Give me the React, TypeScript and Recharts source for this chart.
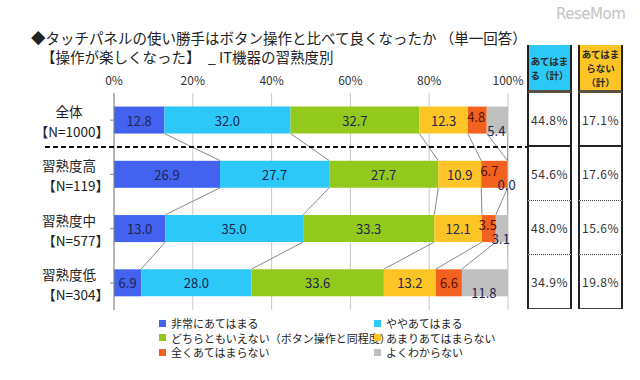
import React from 'react'
import { BarChart, Bar, XAxis, YAxis, CartesianGrid, LabelList } from 'recharts'

const categories = ['全体', '習熟度高', '習熟度中', '習熟度低']
const sampleSizes = ['【N=1000】', '【N=119】', '【N=577】', '【N=304】']

const veryMuch = [12.8, 26.9, 13.0, 6.9]
const somewhat = [32.0, 27.7, 35.0, 28.0]
const neither = [32.7, 27.7, 33.3, 33.6]
const notMuch = [12.3, 10.9, 12.1, 13.2]
const notAtAll = [4.8, 6.7, 3.5, 6.6]
const unknown = [5.4, 0.0, 3.1, 11.8]

const appliesTotal = ['44.8%', '54.6%', '48.0%', '34.9%']
const notAppliesTotal = ['17.1%', '17.6%', '15.6%', '19.8%']

const xTicks = [0, 20, 40, 60, 80, 100]

const seriesNames = [
  '非常にあてはまる',
  'ややあてはまる',
  'どちらともいえない（ボタン操作と同程度）',
  'あまりあてはまらない',
  '全くあてはまらない',
  'よくわからない',
]
const seriesValues = [veryMuch, somewhat, neither, notMuch, notAtAll, unknown]
const seriesKeys = ['s1', 's2', 's3', 's4', 's5', 's6']
const seriesColors = ['#4262ef', '#2cc8f7', '#93c91c', '#fcc424', '#f2621e', '#c0c0c0']

const FONT = '"Noto Sans CJK JP", "Noto Sans", sans-serif'

const chartData = categories.map((name, i) => {
  const row: Record<string, any> = { name, n: sampleSizes[i] }
  seriesKeys.forEach((k, j) => (row[k] = seriesValues[j][i]))
  return row
})

// cumulative right edge of each series per category (for the series lines)
const cumulative = categories.map((_, i) => {
  let sum = 0
  return seriesValues.map((vals) => (sum += vals[i]))
})

// first series draws its bar plus the connector lines down to the next category
const FirstBarShape = (props: any) => {
  const { x, y, width, height, fill, index } = props
  const k = width / veryMuch[index]
  return (
    <g>
      {index < categories.length - 1 &&
        cumulative[index].map((c, j) => (
          <line
            key={j}
            x1={x + c * k}
            y1={y + height}
            x2={x + cumulative[index + 1][j] * k}
            y2={y + height * 2}
            stroke="#8a8a8a"
            strokeWidth={1}
          />
        ))}
      <rect x={x} y={y} width={width} height={height} fill={fill} />
    </g>
  )
}

// small segments on the right have their labels nudged like the original
const labelNudge = (series: number, index: number) => {
  if (series === 4 && index === 1) return { dx: -5, dy: -4 }
  if (series === 4 && index < 3) return { dx: -1, dy: -4 }
  if (series === 5 && index < 3) return { dx: -1, dy: 10 }
  return { dx: 0, dy: 0 }
}

const labelText = (x: number, y: number, value: number, fill: string) => (
  <text x={x} y={y} textAnchor="middle" dominantBaseline="central" fontSize={13} fontFamily={FONT} fill={fill}>
    {Number(value).toFixed(1)}
  </text>
)

const makeLabel = (series: number) => (props: any) => {
  const { x, y, width, height, value, index } = props
  const { dx, dy } = labelNudge(series, index)
  const cx = x + width / 2 + dx
  const cy = y + height / 2 + dy
  // a zero-width last segment gets no label of its own; place it after the orange one
  const zeroNext = series === 4 && unknown[index] === 0
  return (
    <g>
      {labelText(cx, cy, value, series === 4 ? '#5a1208' : '#1d2550')}
      {zeroNext && labelText(x + width - 1, y + height / 2 + 10, unknown[index], '#1d2550')}
    </g>
  )
}

const CategoryTick = (props: any) => {
  const { x, y, index } = props
  return (
    <g>
      <text x={x - 39} y={y - 9} textAnchor="middle" dominantBaseline="central" fontSize={13.5} fontFamily={FONT} fill="#222">
        {categories[index]}
      </text>
      <text x={x + 1} y={y + 11} textAnchor="end" dominantBaseline="central" fontSize={13.5} fontFamily={FONT} fill="#222">
        {sampleSizes[index]}
      </text>
    </g>
  )
}

const legendRows = [
  [0, 1],
  [2, 3],
  [4, 5],
]

const TableColumn = ({ left, header, headerBg, values }: any) => (
  <div style={{ position: 'absolute', left, top: 45, width: 45, fontFamily: FONT }}>
    <div
      style={{
        boxSizing: 'border-box',
        height: 48,
        background: headerBg,
        borderLeft: '2px solid #222',
        borderRight: '2px solid #222',
        borderBottom: '3px solid #5a5040',
        display: 'flex',
        flexDirection: 'column',
        justifyContent: 'center',
        alignItems: 'center',
        fontSize: 9.5,
        lineHeight: '14px',
        color: '#2a2a2a',
        fontWeight: 700,
        whiteSpace: 'nowrap',
      }}
    >
      {header.map((h: string) => (
        <div key={h}>{h}</div>
      ))}
    </div>
    {values.map((v: string, i: number) => (
      <div
        key={i}
        style={{
          boxSizing: 'border-box',
          height: 54,
          borderLeft: '2px solid #222',
          borderRight: '2px solid #222',
          borderBottom: i === 0 ? '2px solid #222' : i === values.length - 1 ? '1px solid #444' : '1px dotted #444',
          display: 'flex',
          alignItems: 'center',
          justifyContent: 'center',
          fontSize: 12,
          letterSpacing: 0.5,
          color: '#333',
        }}
      >
        {v}
      </div>
    ))}
  </div>
)

export default function App() {
  return (
    <div style={{ position: 'absolute', left: 0, top: 0, width: 640, height: 380, background: '#fff', fontFamily: FONT }}>
      <div style={{ position: 'absolute', left: 556, top: 5, fontSize: 15, color: '#c4c4c4', fontFamily: '"DejaVu Sans", sans-serif', letterSpacing: -0.5 }}>
        ReseMom
      </div>
      <div style={{ position: 'absolute', left: 31, top: 28, whiteSpace: 'nowrap', fontSize: 14.5, lineHeight: '19px', color: '#222' }}>
        ◆タッチパネルの使い勝手はボタン操作と比べて良くなったか （単一回答）
        <br />
        <span style={{ marginLeft: 10 }}>【操作が楽しくなった】　_ IT機器の習熟度別</span>
      </div>

      <BarChart
        width={640}
        height={380}
        data={chartData}
        layout="vertical"
        barCategoryGap="25%"
        margin={{ top: 73, right: 132, bottom: 70, left: 8 }}
        style={{ position: 'absolute', left: 0, top: 0 }}
      >
        <CartesianGrid horizontal={false} stroke="#c8c8c8" />
        <XAxis
          type="number"
          orientation="top"
          domain={[0, 100]}
          ticks={xTicks}
          allowDataOverflow
          height={20}
          axisLine={false}
          tickLine={false}
          tickFormatter={(v) => `${v}%`}
          tick={{ fontSize: 12, fill: '#333', fontFamily: FONT }}
        />
        <YAxis
          type="category"
          dataKey="name"
          width={106}
          stroke="#888"
          tickSize={4}
          tick={<CategoryTick />}
          interval={0}
        />
        {seriesKeys.map((k, j) => (
          <Bar
            key={k}
            dataKey={k}
            stackId="a"
            fill={seriesColors[j]}
            isAnimationActive={false}
            shape={j === 0 ? <FirstBarShape /> : undefined}
          >
            <LabelList dataKey={k} content={makeLabel(j)} />
          </Bar>
        ))}
      </BarChart>

      <svg width={640} height={380} style={{ position: 'absolute', left: 0, top: 0, pointerEvents: 'none' }}>
        <line x1={45} y1={147} x2={527} y2={147} stroke="#111" strokeWidth={2} strokeDasharray="5 3" />
      </svg>

      <TableColumn left={527} header={['あてはま', 'る（計）']} headerBg="#2cc8f7" values={appliesTotal} />
      <TableColumn left={578} header={['あてはま', 'らない', '（計）']} headerBg="#fcc424" values={notAppliesTotal} />

      <div style={{ position: 'absolute', left: 159, top: 316, width: 380, fontSize: 11, lineHeight: '14.5px', color: '#222' }}>
        {legendRows.map((row, r) => (
          <div key={r} style={{ position: 'relative', height: 14.5 }}>
            {row.map((s, c) => (
              <div key={s} style={{ position: 'absolute', left: c * 215, top: 0, whiteSpace: 'nowrap', display: 'flex', alignItems: 'center' }}>
                <span style={{ display: 'inline-block', width: 7, height: 7, background: seriesColors[s], marginRight: 5, position: 'relative', zIndex: 2 }} />
                <span>{seriesNames[s]}</span>
              </div>
            ))}
          </div>
        ))}
      </div>
    </div>
  )
}
